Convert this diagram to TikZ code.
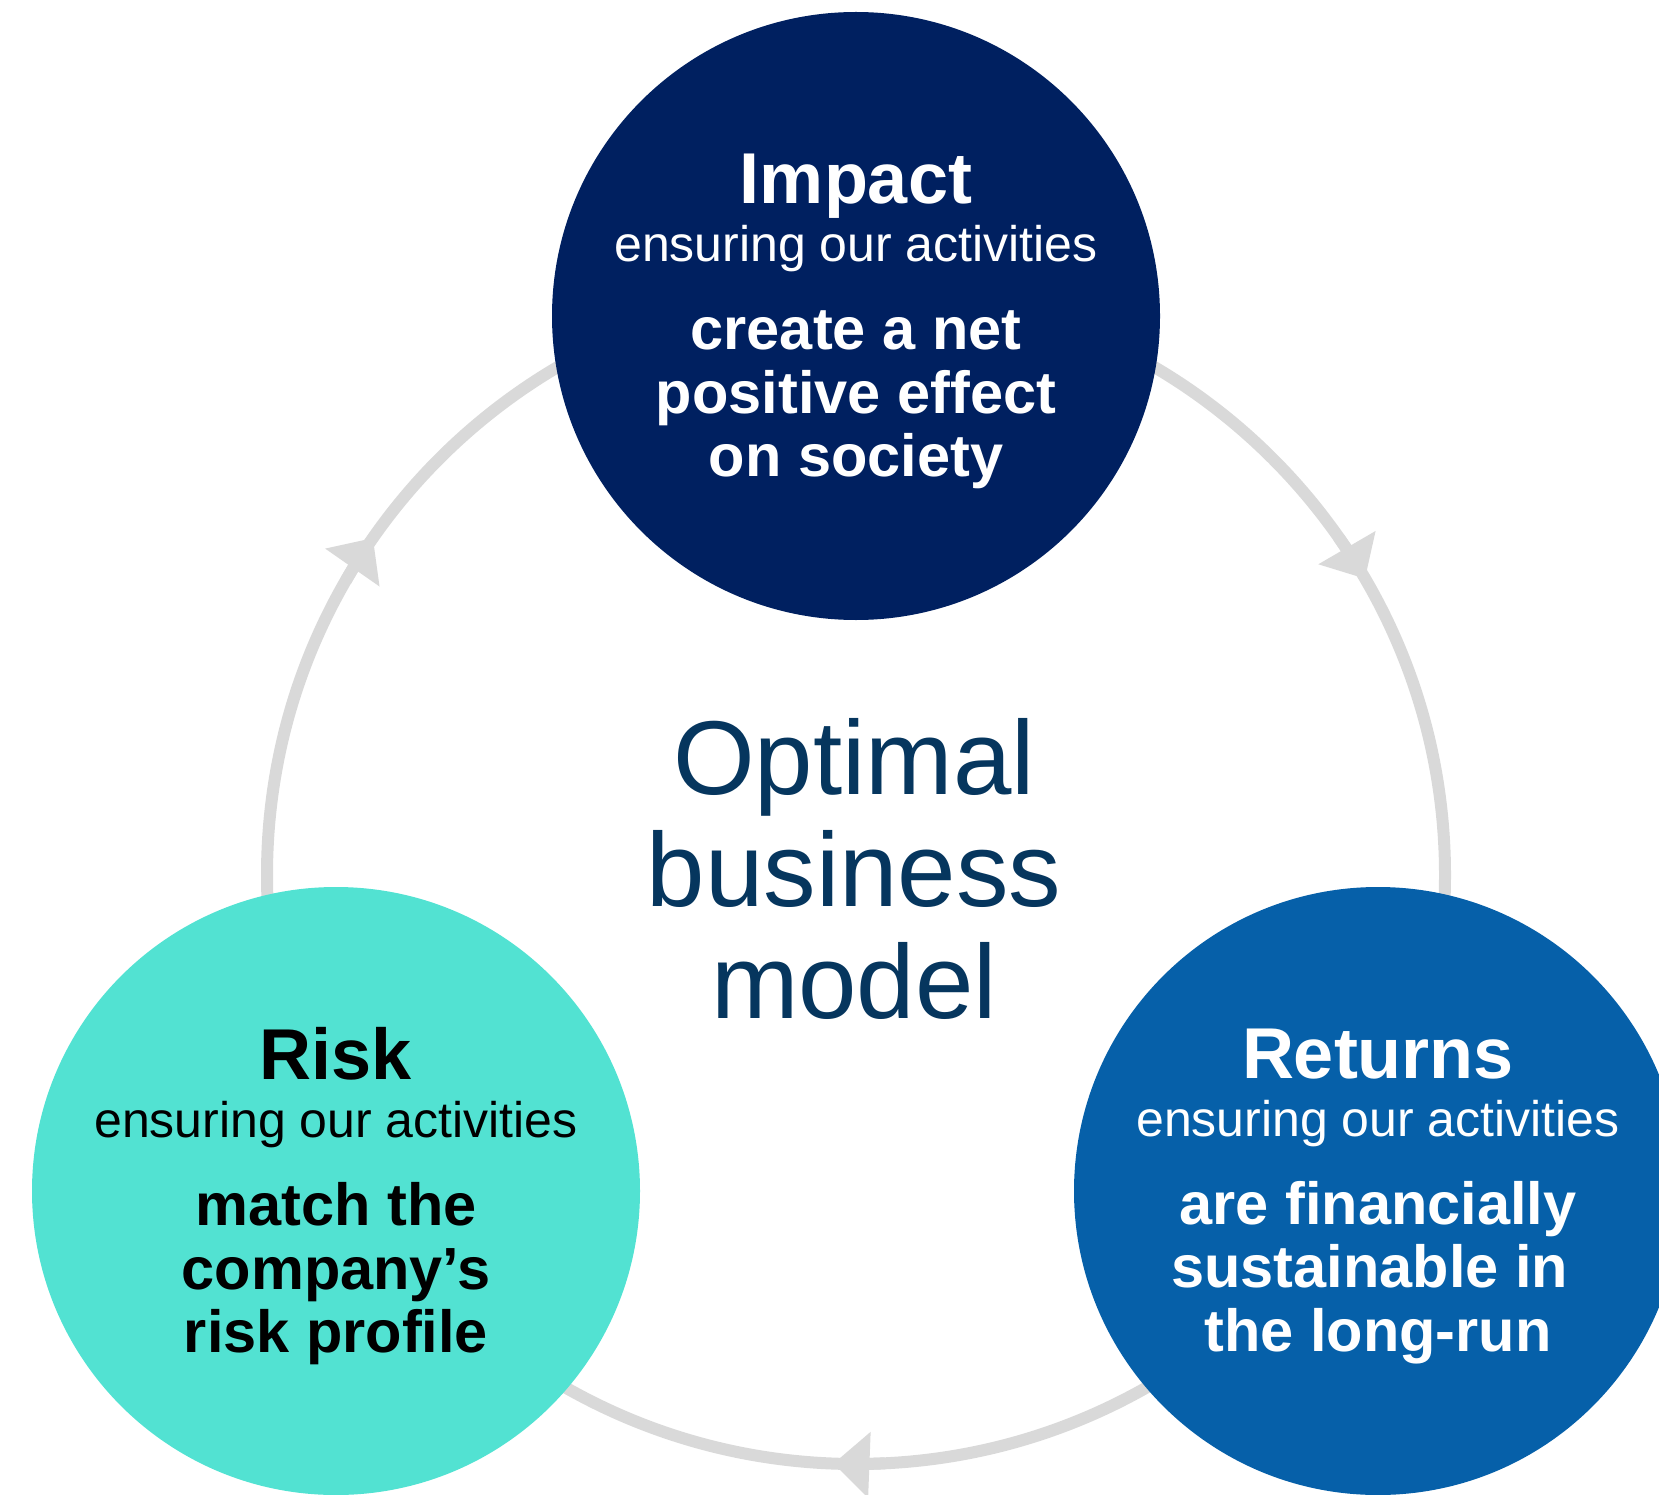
\documentclass[tikz,border=0pt]{standalone}
\usepackage{fontspec}
\setmainfont{Liberation Sans}
\usetikzlibrary{arrows.meta}
\definecolor{navy}{HTML}{002060}
\definecolor{ocean}{HTML}{0660A9}
\definecolor{tealc}{HTML}{52E2D2}
\definecolor{ringgray}{HTML}{D9D9D9}
\definecolor{midblue}{HTML}{06365E}
\newcommand{\lineB}[2]{\hbox to 0pt{\hss\fontsize{#1pt}{#1pt}\selectfont\bfseries #2\hss}}
\newcommand{\lineR}[2]{\hbox to 0pt{\hss\fontsize{#1pt}{#1pt}\selectfont #2\hss}}
\newcommand{\bubbletext}[5]{%
  \vbox{\lineskiplimit=-1000pt
    \kern 11pt
    \lineB{72}{#1}%
    \baselineskip=58pt
    \lineR{50}{#2}%
    \baselineskip=88pt
    \lineB{59.5}{#3}%
    \baselineskip=63.5pt
    \lineB{59.5}{#4}%
    \lineB{59.5}{#5}}}
\begin{document}
\begin{tikzpicture}[x=1pt,y=1pt,
  bubble/.style={circle, minimum size=608pt, inner sep=0pt, outer sep=0pt},
  ringline/.style={draw=ringgray, line width=12pt},
  ringtip/.style={-{Triangle[length=36pt,width=64pt]}}]
\useasboundingbox (0,0) rectangle (1659,-1495);
\clip (0,0) rectangle (1659,-1495);
\coordinate (ringc) at (856,-875);
\draw[ringline] (ringc) circle[radius=589];
\draw[ringline, ringtip] ([shift={(ringc)}]150:589) arc[start angle=150,end angle=145.1,radius=589];
\draw[ringline, ringtip] ([shift={(ringc)}]35:589) arc[start angle=35,end angle=30.2,radius=589];
\draw[ringline, ringtip] ([shift={(ringc)}]272.8:589) arc[start angle=272.8,end angle=267.8,radius=589];
\node[bubble, fill=navy, text=white] (impact) at (856,-316)
  {\bubbletext{Impact}{ensuring our activities}{create a net}{positive effect}{on society}};
\node[bubble, fill=tealc, text=black] (risk) at (336,-1191)
  {\bubbletext{Risk}{ensuring our activities}{match the}{company’s}{risk profile}};
\node[bubble, fill=ocean, text=white] (returns) at (1378,-1191)
  {\bubbletext{Returns}{ensuring our activities}{are financially}{sustainable in\ }{the long-run}};
\node[text=midblue, anchor=base, inner sep=0pt] (optimal) at (854,-1018)
  {\vbox{\lineskiplimit=-1000pt \baselineskip=112pt
    \lineR{105}{Optimal}\lineR{105}{business}\lineR{105}{model}}};
\end{tikzpicture}
\end{document}
